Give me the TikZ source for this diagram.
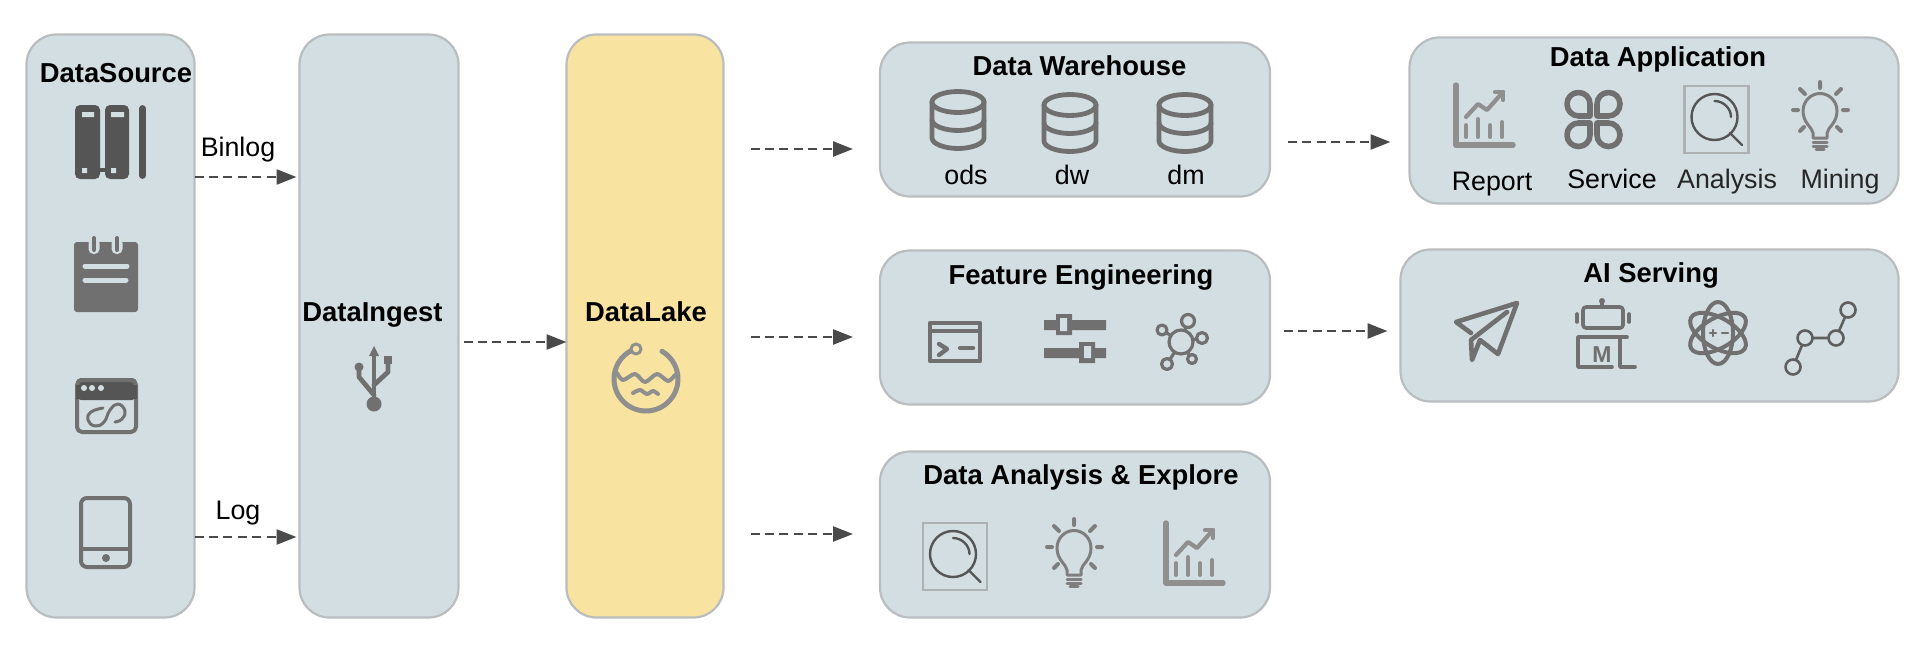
\documentclass[tikz,border=0pt]{standalone}
\usepackage{fontspec}
\setmainfont{Liberation Sans}
\usetikzlibrary{arrows.meta}
\definecolor{boxfill}{HTML}{D3DEE2}
\definecolor{boxline}{HTML}{B9BDBF}
\definecolor{searchline}{HTML}{AEB1B2}
\definecolor{lakefill}{HTML}{F9E3A0}
\definecolor{flow}{HTML}{4A4A4A}
\definecolor{icon}{HTML}{707070}
\definecolor{icondark}{HTML}{555555}
\definecolor{iconlight}{HTML}{8F8F8F}
\tikzset{
  panel/.style={draw=boxline,line width=1.1pt,fill=boxfill,rounded corners=15pt,inner sep=0pt,outer sep=0pt},
  title/.style={font=\fontsize{13.7pt}{16pt}\selectfont\bfseries,anchor=base,inner sep=0pt,text=black},
  lbl/.style={font=\fontsize{13.4pt}{16pt}\selectfont,anchor=base,inner sep=0pt,text=black},
  flowline/.style={draw=flow,line width=1.2pt,dash pattern=on 4.5pt off 2.7pt,
    -{Triangle[length=10pt,width=7.5pt,fill=flow]}},
  ic/.style={draw=icon,line width=2.4pt,line cap=round,line join=round},
  iclight/.style={draw=iconlight,line width=2.7pt,line cap=round,line join=round},
}
\newcommand{\dbicon}[2]{\begin{scope}[shift={(#1,#2)},ic]
  \draw (0,0) ellipse [x radius=26,y radius=10.5];
  \draw (-26,0) -- (-26,36) .. controls (-26,42) and (-13,46.5) .. (0,46.5) .. controls (13,46.5) and (26,42) .. (26,36) -- (26,0);
  \draw (-26,18) .. controls (-26,24) and (-13,28.5) .. (0,28.5) .. controls (13,28.5) and (26,24) .. (26,18);
\end{scope}}
\newcommand{\charticon}[2]{\begin{scope}[shift={(#1,#2)},iclight]
  \draw (0,-60) -- (0,0) -- (57,0);
  \draw[line width=2.1pt] (10,-28) -- (22,-41) -- (31,-35) -- (47,-53);
  \draw[line width=2.1pt] (39,-53) -- (47,-53) -- (47,-45);
  \draw[line width=1.9pt] (10,-20) -- (10,-8) (22,-26) -- (22,-8) (34,-20) -- (34,-8) (46,-23) -- (46,-8);
\end{scope}}
\newcommand{\searchicon}[2]{\begin{scope}[shift={(#1,#2)}]
  \draw[draw=searchline,line width=1.3pt] (-32,-33.5) rectangle (32,33.5);
  \draw[draw=icondark,line width=1.2pt,line cap=round] (-2,-2.5) circle [radius=23];
  \draw[draw=icondark,line width=1.2pt,line cap=round] (-2,-18.5) .. controls (7,-18.5) and (14.5,-11) .. (14.5,-2.5);
  \draw[draw=icondark,line width=1.2pt,line cap=round] (13.5,13.5) -- (25.5,25.5);
\end{scope}}
\newcommand{\bulbicon}[2]{\begin{scope}[shift={(#1,#2)},ic,draw=icon!90!white]
  \draw[line width=1.5pt] (-7,27) -- (-7,22) .. controls (-8,16) and (-17,12) .. (-17,0) .. controls (-17,-10) and (-9,-17.5) .. (0,-17.5) .. controls (9,-17.5) and (17,-10) .. (17,0) .. controls (17,12) and (8,16) .. (7,22) -- (7,27) -- cycle;
  \draw[line width=1.5pt] (-7,31) -- (7,31) (-7,35) -- (7,35) (-4,38.5) -- (4,38.5);
  \draw[line width=2pt] (0,-29) -- (0,-23) (-27,-1) -- (-22,-1) (23,-1) -- (28,-1)
    (-20,-22) -- (-15,-17) (21,-22) -- (16,-17) (-20,20) -- (-16,16) (21,20) -- (17,16);
\end{scope}}
\begin{document}
\begin{tikzpicture}[x=0.5pt,y=-0.5pt]
\useasboundingbox (0,0) rectangle (1920,653);
% panels
\node[panel,minimum width=84pt,minimum height=291.5pt] (ds) at (110.5,326) {};
\node[panel,minimum width=79.5pt,minimum height=291.5pt] (ing) at (379,326) {};
\node[panel,fill=lakefill,minimum width=78.5pt,minimum height=291.5pt] (lake) at (645,326) {};
\node[panel,minimum width=195pt,minimum height=77pt] (dw) at (1075,119.5) {};
\node[panel,minimum width=195pt,minimum height=77pt] (fe) at (1075,327.5) {};
\node[panel,minimum width=195pt,minimum height=83pt] (dae) at (1075,534.5) {};
\node[panel,minimum width=244.5pt,minimum height=83pt] (app) at (1654,120.5) {};
\node[panel,minimum width=249pt,minimum height=76pt] (ai) at (1649.5,325.5) {};
% titles
\node[title] (tds) at (116,82) {DataSource};
\node[title] (ting) at (372.5,321) {DataIngest};
\node[title] (tlake) at (646,321) {DataLake};
\node[title] (tdw) at (1079.5,75) {Data Warehouse};
\node[title] (tapp) at (1658,66) {Data Application};
\node[title] (tfe) at (1081,284) {Feature Engineering};
\node[title] (tai) at (1651,282) {AI Serving};
\node[title] (tdae) at (1081,484) {Data Analysis \& Explore};
% labels
\node[lbl] (lb) at (238,156) {Binlog};
\node[lbl] (ll) at (238,519) {Log};
\node[lbl] (l1) at (966,184) {ods};
\node[lbl] (l2) at (1072,184) {dw};
\node[lbl] (l3) at (1186,184) {dm};
\node[lbl] (l4) at (1492,190) {Report};
\node[lbl] (l5) at (1612,188) {Service};
\node[lbl,text=black!85] (l6) at (1727,188) {Analysis};
\node[lbl,text=black!85] (l7) at (1840,188) {Mining};
% connectors
\draw[flowline] (ds.east |- 0,177) -- ([xshift=-1.5pt]ing.west |- 0,177);
\draw[flowline] (ds.east |- 0,537) -- ([xshift=-1.5pt]ing.west |- 0,537);
\draw[flowline] ([xshift=2.5pt]ing.east |- 0,342) -- (lake.west |- 0,342);
\draw[flowline] ([xshift=13.5pt]lake.east |- 0,149) -- ([xshift=-13.5pt]dw.west |- 0,149);
\draw[flowline] ([xshift=13.5pt]lake.east |- 0,337) -- ([xshift=-13.5pt]fe.west |- 0,337);
\draw[flowline] ([xshift=13.5pt]lake.east |- 0,534) -- ([xshift=-13.5pt]dae.west |- 0,534);
\draw[flowline] ([xshift=9pt]dw.east |- 0,142) -- ([xshift=-9.5pt]app.west |- 0,142);
\draw[flowline] ([xshift=7pt]fe.east |- 0,331) -- ([xshift=-6.5pt]ai.west |- 0,331);
% books
\fill[icondark,rounded corners=2.5pt] (75,105) rectangle (100,179);
\fill[icondark,rounded corners=2.5pt] (105,105) rectangle (129,179);
\draw[icondark,line width=3.4pt,line cap=round] (142.5,108.5) -- (142.5,175.5);
\fill[icondark] (100,168) rectangle (105,172);
\fill[boxfill] (82,112) rectangle (94,117) (111,112) rectangle (124,117) (82,168) rectangle (87,173) (111,168) rectangle (116,173);
% notepad
\fill[icon,rounded corners=1.5pt] (74,242) rectangle (138,312);
\fill[boxfill,rounded corners=2.5pt] (88.5,238) rectangle (99.5,254) (111.5,238) rectangle (122.5,254);
\draw[icon,line width=2pt,line cap=round] (94,238) -- (94,250) (117,238) -- (117,250);
\draw[boxfill,line width=2.5pt,line cap=round] (85,266) -- (127,266) (85,280) -- (126,280);
% browser
\fill[icondark,rounded corners=2.5pt] (76,378) rectangle (137,400);
\draw[ic,line width=2pt,rounded corners=2.5pt] (77,380) rectangle (136,432);
\fill[icondark] (76,385) rectangle (137,399);
\fill[boxfill] (84,388) circle [radius=3] (92,388) circle [radius=3] (101,388) circle [radius=3];
\draw[ic,line width=1.5pt] plot[smooth,tension=0.8] coordinates {(103,408) (91,412) (88,420) (95,426) (104,422) (110,410) (118,404) (125,411) (122,419) (115,422)};
% tablet
\draw[ic,line width=2pt,rounded corners=3pt] (81,498) rectangle (130,567);
\draw[ic,line width=2pt] (81,549) -- (130,549);
\fill[icon] (106,558) circle [radius=4];
% usb
\begin{scope}[ic]
\fill[icon] (374,404) circle [radius=7.5];
\draw (374,404) -- (374,352);
\fill[icon] (374,346) -- (379,356) -- (369,356) -- cycle;
\fill[icon] (359,367) circle [radius=4.5];
\draw (359,367) -- (359,377) -- (374,395);
\fill[icon] (384,356) rectangle (392,364);
\draw (388,364) -- (388,372) -- (374,385);
\end{scope}
% lake
\begin{scope}[iclight]
\draw[line width=2.5pt] plot[smooth,samples=50,domain=-108:-420] ({646+32*cos(\x)},{379+32*sin(\x)});
\draw[line width=1.5pt,fill=lakefill] (636,349) circle [radius=5];
\draw[line width=2pt] plot[smooth] coordinates {(617,373) (623,380) (635,374) (645,382) (657,374) (668,381) (675,375)};
\draw[line width=2pt] plot[smooth] coordinates {(633,393) (640,390) (647,394) (653,391) (658,394)};
\end{scope}
% databases
\dbicon{958}{102}
\dbicon{1070}{105}
\dbicon{1185}{105}
% app icons
\charticon{1456}{145}
\begin{scope}[shift={(1593.5,119.5)}]
\foreach \sx in {1,-1}{\foreach \sy in {1,-1}{
  \begin{scope}[xscale=\sx,yscale=\sy]
  \draw[ic,line width=2.8pt] (-3.5,-3.5) -- (-15,-3.5) .. controls (-21.5,-3.5) and (-26.5,-9) .. (-26.5,-15.5) .. controls (-26.5,-22) and (-21.5,-27) .. (-15,-27) .. controls (-8.5,-27) and (-3.5,-22) .. (-3.5,-15.5) -- cycle;
  \end{scope}}}
\end{scope}
\searchicon{1716.5}{119.5}
\bulbicon{1820}{111}
% feature engineering icons
\begin{scope}[ic,line width=2.2pt]
\draw (930,323) rectangle (980,361);
\draw (930,331) -- (980,331);
\draw (939,344) -- (947,349) -- (939,355);
\draw (960,348) -- (973,348);
\end{scope}
\fill[icon] (1044,320) rectangle (1106,330) (1044,348) rectangle (1106,358);
\fill[icon] (1056,314) rectangle (1072,335) (1079,342) rectangle (1095,363);
\fill[boxfill] (1060,318) rectangle (1067,331) (1084,346) rectangle (1091,358);
\begin{scope}[ic,line width=1.6pt]
\foreach \p/\r in {{1188,321}/6.5,{1162,330}/5,{1202,338}/5.5,{1192,359}/4.5,{1167,364}/5.5}{
  \draw (1181,342) -- (\p);
  \draw[fill=boxfill] (\p) circle [radius=\r];
}
\draw[fill=boxfill] (1181,342) circle [radius=12];
\end{scope}
% AI icons
\draw[ic,line width=2.3pt] (1471,333) -- (1456,322) -- (1517,303) -- (1498,354) -- (1480,340) -- (1472,360) -- (1471,340) -- (1507,312);
\begin{scope}[ic,line width=1.8pt]
\draw[rounded corners=1.5pt] (1583,307) rectangle (1623,328);
\draw (1602,301) -- (1602,307);
\fill[icon] (1602,301) circle [radius=3];
\draw (1577,314) -- (1577,322) (1629,314) -- (1629,322);
\draw (1627,337) -- (1578,337) -- (1578,367) -- (1612,367);
\draw (1620,338) -- (1620,367) -- (1635,367);
\end{scope}
\node[font=\fontsize{11.5pt}{13pt}\selectfont\bfseries,text=icon,anchor=base,inner sep=0pt] (mtxt) at (1602,362) {M};
\begin{scope}[ic,line width=2pt]
\draw (1718,333) ellipse [x radius=15,y radius=31];
\draw[rotate around={60:(1718,333)}] (1718,333) ellipse [x radius=15,y radius=31];
\draw[rotate around={-60:(1718,333)}] (1718,333) ellipse [x radius=15,y radius=31];
\draw[line width=1.2pt] (1710,333) -- (1716,333) (1713,330) -- (1713,336) (1722,333) -- (1728,333);
\end{scope}
\begin{scope}[draw=icon!85!black,line width=1.3pt,line cap=round]
\draw (1793,367) -- (1805,338) -- (1836,338) -- (1848,310);
\foreach \p in {{1848,310},{1836,338},{1805,338},{1793,367}}
  \draw[fill=boxfill] (\p) circle [radius=7.5];
\end{scope}
% analysis icons
\searchicon{955}{556.5}
\bulbicon{1074}{548}
\charticon{1166}{583}
\end{tikzpicture}
\end{document}
